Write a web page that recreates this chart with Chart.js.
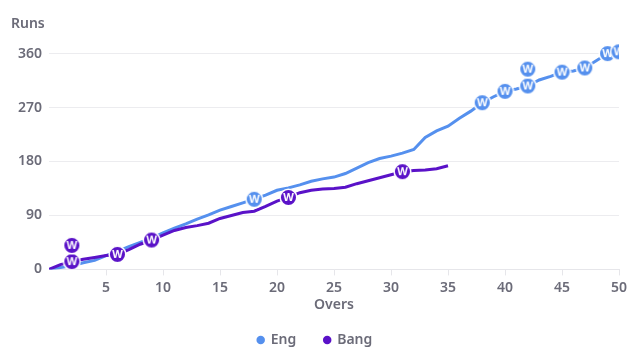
<!DOCTYPE html>
<html>
<head>
<meta charset="utf-8">
<script src="https://cdn.jsdelivr.net/npm/chart.js@4"></script>
<style>
  html, body { margin: 0; padding: 0; background: #fff; }
  #wrap { width: 640px; height: 353px; }
</style>
</head>
<body>
<div id="wrap"><canvas id="chart"></canvas></div>
<script>
// Cumulative runs at the end of each over
const engRuns = [0, 3, 6, 11, 15, 23, 30, 38, 45, 52, 61, 69, 76, 84, 91, 99, 105, 111, 117, 124,
  132, 136, 141, 147, 151, 154, 160, 169, 178, 185, 189, 194, 200, 220, 231, 239, 252, 264, 278, 288,
  297, 301, 306, 316, 322, 329, 331, 336, 348, 360, 363];
const bangRuns = [0, 8, 13, 17, 20, 23, 25, 33, 42, 49, 57, 65, 70, 73, 77, 85, 90, 95, 97, 105,
  114, 120, 128, 132, 134, 135, 137, 143, 148, 153, 158, 163, 165, 166, 168, 173];

// Wicket markers (over, runs as drawn)
const engWktOvers = [18, 38, 40, 42, 42, 45, 47, 49, 50];
const engWktRuns = [117, 278, 297, 306, 334, 329, 336, 360, 363];
const bangWktOvers = [2, 2, 6, 9, 21, 31];
const bangWktRuns = [13, 40, 25, 49, 120, 163];

const yTicks = [0, 90, 180, 270, 360];
const xTicks = [5, 10, 15, 20, 25, 30, 35, 40, 45, 50];

const engColor = '#5590ee';
const bangColor = '#5a12c8';
const textColor = '#6b6b78';
const font = { family: 'Noto Sans', size: 14, weight: '600' };

function wicketIcon(color) {
    const c = document.createElement('canvas');
    c.width = 19; c.height = 19;
    const g = c.getContext('2d');
    g.beginPath();
    g.arc(9.5, 9.5, 8.3, 0, Math.PI * 2);
    g.fillStyle = color;
    g.fill();
    g.lineWidth = 1.5;
    g.strokeStyle = '#ffffff';
    g.stroke();
    g.fillStyle = '#ffffff';
    g.font = 'bold 11px "Noto Sans"';
    g.textAlign = 'center';
    g.textBaseline = 'middle';
    g.fillText('W', 9.5, 10);
    return c;
}

const toPts = (xs, ys) => xs.map((x, i) => ({ x: x, y: ys[i] }));

const ctx = document.getElementById('chart').getContext('2d');
new Chart(ctx, {
    type: 'line',
    data: {
        datasets: [
            {
                type: 'scatter', label: 'engW', data: toPts(engWktOvers, engWktRuns),
                pointStyle: wicketIcon(engColor), order: 0
            },
            {
                type: 'scatter', label: 'bangW', data: toPts(bangWktOvers, bangWktRuns),
                pointStyle: wicketIcon(bangColor), order: 0
            },
            {
                label: 'Eng', data: engRuns.map((r, i) => ({ x: i, y: r })),
                borderColor: engColor, backgroundColor: engColor,
                borderWidth: 3, pointRadius: 0, tension: 0, order: 2
            },
            {
                label: 'Bang', data: bangRuns.map((r, i) => ({ x: i, y: r })),
                borderColor: bangColor, backgroundColor: bangColor,
                borderWidth: 3, pointRadius: 0, tension: 0, order: 1
            }
        ]
    },
    options: {
        responsive: true,
        maintainAspectRatio: false,
        animation: false,
        layout: { padding: { left: 11, right: 21, top: 0, bottom: -4 } },
        plugins: {
            tooltip: { enabled: false },
            title: {
                display: true, text: 'Runs', align: 'start',
                color: textColor, font: font,
                padding: { top: 16, bottom: 10 }
            },
            legend: {
                position: 'bottom',
                labels: {
                    usePointStyle: true, pointStyle: 'circle', boxWidth: 6, boxHeight: 6,
                    padding: 28, color: textColor, font: font,
                    filter: item => item.text === 'Eng' || item.text === 'Bang',
                    sort: (a, b) => a.datasetIndex - b.datasetIndex,
                    generateLabels: chart => Chart.defaults.plugins.legend.labels.generateLabels(chart)
                        .map(item => Object.assign(item, { lineWidth: 0 }))
                }
            }
        },
        scales: {
            x: {
                type: 'linear', min: 0, max: 50,
                afterBuildTicks: axis => { axis.ticks = xTicks.map(v => ({ value: v })); },
                grid: { drawOnChartArea: false, tickLength: 6, color: '#e6e6ea' },
                border: { color: '#e6e6ea' },
                ticks: { color: textColor, font: font, padding: 4 },
                title: {
                    display: true, text: 'Overs', color: textColor,
                    font: font, padding: { top: -4, bottom: -8 }
                }
            },
            y: {
                min: 0, max: 378,
                afterBuildTicks: axis => { axis.ticks = yTicks.map(v => ({ value: v })); },
                grid: { color: '#ececef', drawTicks: false },
                border: { display: false },
                ticks: { color: textColor, font: font, padding: 7 }
            }
        }
    }
});
</script>
</body>
</html>
